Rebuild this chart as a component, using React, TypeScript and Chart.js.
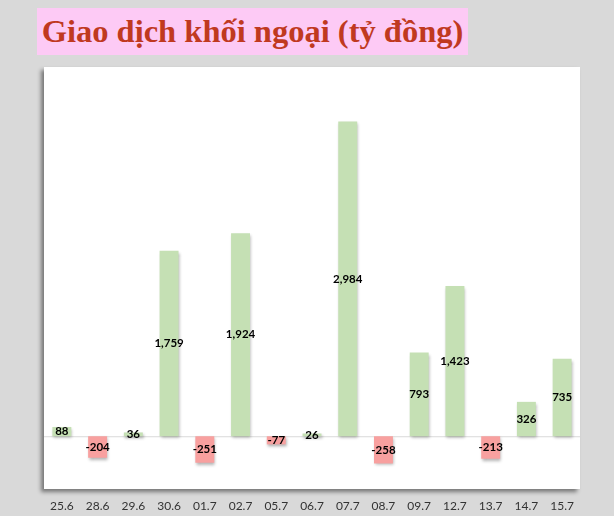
import { Chart, registerables } from "chart.js"
import { useEffect, useRef } from "react"

Chart.register(...registerables)

const days = ["25.6", "28.6", "29.6", "30.6", "01.7", "02.7", "05.7", "06.7", "07.7", "08.7", "09.7", "12.7", "13.7", "14.7", "15.7"]
const netValues = [88, -204, 36, 1759, -251, 1924, -77, 26, 2984, -258, 793, 1423, -213, 326, 735]
const yMin = -500
const yMax = 3500

const GREEN = "#c5e0b4"
const RED = "#f8a09f"

// white plot box with a soft shadow + the zero line
const plotBox = {
    id: "plotBox",
    beforeDatasetsDraw(chart: any) {
        const { ctx, chartArea, scales } = chart
        ctx.save()
        ctx.shadowColor = "rgba(0,0,0,0.45)"
        ctx.shadowBlur = 4
        ctx.shadowOffsetX = -3
        ctx.shadowOffsetY = 3
        ctx.fillStyle = "#ffffff"
        ctx.fillRect(chartArea.left, chartArea.top, chartArea.right - chartArea.left, chartArea.bottom - chartArea.top)
        ctx.restore()

        const y0 = scales.y.getPixelForValue(0)
        ctx.save()
        ctx.strokeStyle = "#d9d9d9"
        ctx.lineWidth = 1
        ctx.beginPath()
        ctx.moveTo(chartArea.left, y0 + 0.5)
        ctx.lineTo(chartArea.right, y0 + 0.5)
        ctx.stroke()
        ctx.restore()

        // bar shadow
        ctx.save()
        ctx.shadowColor = "rgba(0,0,0,0.3)"
        ctx.shadowBlur = 3
        ctx.shadowOffsetX = 1
        ctx.shadowOffsetY = 2
    },
    afterDatasetsDraw(chart: any) {
        const { ctx } = chart
        ctx.restore()
        ctx.save()
        ctx.font = "bold 11.5px Lato"
        ctx.fillStyle = "#000000"
        ctx.textAlign = "center"
        ctx.textBaseline = "middle"
        chart.getDatasetMeta(0).data.forEach((bar: any, i: number) => {
            const v = netValues[i]
            ctx.fillText(v.toLocaleString("en-US"), bar.x, (bar.y + bar.base) / 2)
        })
        ctx.restore()
    },
}

const ForeignChart = () => {
    const canvasRef = useRef<HTMLCanvasElement>(null)

    useEffect(() => {
        if (!canvasRef.current) return
        const chart = new Chart(canvasRef.current, {
            type: "bar",
            data: {
                labels: days,
                datasets: [
                    {
                        label: "Giao dịch khối ngoại",
                        data: netValues,
                        backgroundColor: netValues.map(v => (v < 0 ? RED : GREEN)),
                        barPercentage: 0.53,
                        categoryPercentage: 1,
                    },
                ],
            },
            options: {
                animation: false,
                responsive: true,
                maintainAspectRatio: false,
                layout: { padding: { left: 44, right: 34, top: 67, bottom: 0 } },
                plugins: {
                    legend: { display: false },
                    tooltip: { enabled: false },
                },
                scales: {
                    x: {
                        grid: { display: false, drawTicks: false },
                        border: { display: false },
                        ticks: { color: "#333333", font: { family: "Lato", size: 12 }, padding: 10, maxRotation: 0 },
                        afterFit: (scale: any) => { scale.height = 27 },
                    },
                    y: {
                        display: false,
                        min: yMin,
                        max: yMax,
                    },
                },
            },
            plugins: [plotBox],
        })
        return () => {
            chart.destroy()
        }
    }, [])

    return (
        <div style={{ position: "absolute", left: 0, top: 0, width: 614, height: 516 }}>
            <canvas ref={canvasRef}></canvas>
        </div>
    )
}

export default function App() {
    return (
        <div style={{ position: "fixed", left: 0, top: 0, width: 614, height: 516, background: "#d9d9d9", overflow: "hidden" }}>
            <div
                style={{
                    position: "absolute",
                    left: 37,
                    top: 8,
                    width: 431,
                    height: 47,
                    background: "#fdcaf5",
                    color: "#c0391f",
                    fontFamily: "'Liberation Serif', 'Times New Roman', serif",
                    fontWeight: "bold",
                    fontSize: 32.5,
                    lineHeight: "47px",
                    textAlign: "center",
                    whiteSpace: "nowrap",
                }}
            >
                Giao dịch khối ngoại (tỷ đồng)
            </div>
            <ForeignChart />
        </div>
    )
}
